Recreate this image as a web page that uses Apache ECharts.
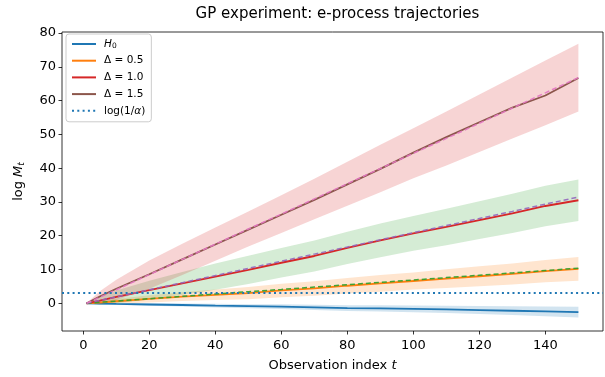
<!DOCTYPE html>
<html>
<head>
<meta charset="utf-8">
<script src="https://cdn.jsdelivr.net/npm/echarts@6/dist/echarts.min.js"></script>
<style>
  html, body { margin: 0; padding: 0; background: #fff; }
  #chart { width: 605px; height: 377px; }
</style>
</head>
<body>
<div id="chart"></div>
<script>
const T = [1, 5, 10, 20, 30, 40, 50, 60, 70, 80, 90, 100, 110, 120, 130, 140, 150];

// H0
const h0Line = [0, -0.1, -0.2, -0.35, -0.5, -0.7, -0.85, -1.0, -1.2, -1.4, -1.5, -1.65, -1.8, -2.0, -2.2, -2.4, -2.6];
const h0Lo = [0, -0.25, -0.45, -0.7, -0.95, -1.25, -1.45, -1.7, -1.95, -2.25, -2.4, -2.65, -2.9, -3.2, -3.5, -3.85, -4.2];
const h0Hi = [0, 0.05, 0.05, 0, -0.05, -0.15, -0.25, -0.3, -0.45, -0.55, -0.6, -0.65, -0.7, -0.8, -0.9, -0.95, -1.0];

// Delta = 0.5
const d05Line = [0, 0.2, 0.6, 1.3, 2.0, 2.5, 3.0, 3.8, 4.4, 5.2, 5.9, 6.6, 7.3, 8.0, 8.7, 9.5, 10.2];
const d05Ref = [0, 0.3, 0.65, 1.35, 2.05, 2.75, 3.45, 4.1, 4.8, 5.5, 6.2, 6.9, 7.6, 8.3, 9.0, 9.7, 10.4];
const d05Lo = [0, -0.3, -0.1, 0.25, 0.7, 0.95, 1.2, 1.8, 2.25, 2.9, 3.45, 4.05, 4.55, 5.05, 5.6, 6.2, 6.7];
const d05Hi = [0, 0.7, 1.3, 2.35, 3.3, 4.05, 4.8, 5.8, 6.55, 7.5, 8.35, 9.15, 10.05, 10.95, 11.8, 12.8, 13.7];

// Delta = 1.0
const d10Line = [0, 0.8, 1.9, 3.9, 5.9, 7.9, 9.9, 12.0, 14.0, 16.4, 18.6, 20.7, 22.6, 24.6, 26.6, 28.8, 30.5];
const d10Ref = [0, 0.85, 1.9, 4.0, 6.1, 8.2, 10.35, 12.45, 14.55, 16.65, 18.8, 20.9, 23.0, 25.1, 27.2, 29.35, 31.45];
const d10Lo = [0, -0.4, 0, 1.1, 2.5, 4.0, 5.7, 7.6, 9.4, 11.6, 13.6, 15.55, 17.2, 19.0, 20.8, 22.8, 24.35];
const d10Hi = [0, 2.0, 3.8, 6.7, 9.3, 11.8, 14.1, 16.4, 18.6, 21.2, 23.6, 25.85, 28.0, 30.2, 32.4, 34.8, 36.65];

// Delta = 1.5
const d15Line = [0, 2.0, 4.3, 8.6, 13.0, 17.4, 21.8, 26.2, 30.6, 35.2, 39.8, 44.6, 49.2, 53.6, 57.9, 61.5, 66.7];
const d15Ref = [0, 1.8, 4.0, 8.5, 13.0, 17.5, 22.0, 26.4, 30.9, 35.4, 39.9, 44.4, 48.8, 53.3, 57.8, 62.3, 66.8];
const d15Lo = [0, 0, 1.0, 4.3, 8.4, 12.6, 16.8, 20.8, 24.9, 28.9, 32.9, 37.0, 40.8, 44.8, 48.8, 52.7, 56.8];
const d15Hi = [0, 3.6, 7.0, 12.7, 17.6, 22.4, 27.2, 32.0, 36.9, 41.9, 46.9, 51.8, 56.8, 61.8, 66.8, 71.9, 76.8];

const logInvAlpha = 2.996;

const xTicks = [0, 20, 40, 60, 80, 100, 120, 140];
const yTicks = [0, 10, 20, 30, 40, 50, 60, 70, 80];

const C = {
  blue: '#1f77b4', orange: '#ff7f0e', green: '#2ca02c', red: '#d62728',
  purple: '#9467bd', brown: '#8c564b', pink: '#e377c2'
};
const FONT = 'DejaVu Sans';

const pairs = (ys) => T.map((t, i) => [t, ys[i]]);

// shaded band between lo and hi, drawn as one polygon through the axes
function band(id, lo, hi, color) {
  return {
    name: id, type: 'custom', silent: true, z: 1,
    data: [[T[0], lo[0]]],
    renderItem: (params, api) => {
      const pts = [];
      T.forEach((t, i) => pts.push(api.coord([t, hi[i]])));
      for (let i = T.length - 1; i >= 0; i--) pts.push(api.coord([T[i], lo[i]]));
      return { type: 'polygon', shape: { points: pts }, style: { fill: color } };
    }
  };
}

function solid(name, ys, color) {
  return {
    name: name, type: 'line', data: pairs(ys), symbol: 'none', silent: true,
    lineStyle: { color: color, width: 1.8 }, itemStyle: { color: color }, z: 3
  };
}

function dashed(name, ys, color) {
  return {
    name: name, type: 'line', data: pairs(ys), symbol: 'none', silent: true,
    lineStyle: { color: color, width: 1.5, type: [5, 3], opacity: 0.9 }, z: 4
  };
}

const chart = echarts.init(document.getElementById('chart'), null, { renderer: 'canvas' });

const legendRich = {
  it: { fontStyle: 'italic', fontFamily: FONT, fontSize: 10.5 },
  sub: { fontFamily: FONT, fontSize: 7.5, padding: [5, 0, 0, 0] },
  n: { fontFamily: FONT, fontSize: 10.5 }
};

const h0Series = solid('H0', h0Line, C.blue);
h0Series.markLine = {
  silent: true, symbol: 'none', label: { show: false },
  lineStyle: { color: C.blue, width: 2, type: [2, 3.3] },
  data: [{ yAxis: logInvAlpha }]
};

const option = {
  backgroundColor: '#fff',
  animation: false,
  title: {
    text: 'GP experiment: e-process trajectories',
    left: 332.5,
    textAlign: 'center',
    top: 2,
    textStyle: { fontFamily: FONT, fontSize: 15, fontWeight: 'normal', color: '#000' }
  },
  grid: {
    left: 62, right: 2, top: 32, bottom: 44,
    show: true, borderColor: '#000', borderWidth: 0.8, containLabel: false
  },
  legend: {
    orient: 'vertical',
    left: 66, top: 34,
    data: ['H0', 'Δ = 0.5', 'Δ = 1.0', 'Δ = 1.5', 'log(1/α)'],
    itemWidth: 24, itemHeight: 12, itemGap: 2.7,
    padding: [3, 6, 4, 5],
    itemStyle: { opacity: 0 },
    backgroundColor: 'rgba(255,255,255,0.8)',
    borderColor: '#cccccc', borderWidth: 1, borderRadius: 3,
    textStyle: { fontFamily: FONT, fontSize: 10.5, color: '#000', lineHeight: 14, padding: [0, 0, 0, 3], rich: legendRich },
    formatter: (name) => {
      if (name === 'H0') return '{it|H}{sub|0}';
      if (name === 'log(1/α)') return '{n|log(1/}{it|α}{n|)}';
      return name;
    }
  },
  xAxis: {
    type: 'value', min: -6.45, max: 157.45,
    name: 'Observation index {it|t}',
    nameLocation: 'middle', nameGap: 28,
    nameTextStyle: { fontFamily: FONT, fontSize: 13, color: '#000',
      rich: { it: { fontFamily: FONT, fontSize: 13, fontStyle: 'italic' } } },
    splitLine: { show: false },
    axisLine: { show: false, onZero: false },
    axisTick: { show: true, customValues: xTicks, length: 3.5, lineStyle: { color: '#000', width: 0.8 } },
    axisLabel: { customValues: xTicks, fontFamily: FONT, fontSize: 13, color: '#000', margin: 8 }
  },
  yAxis: {
    type: 'value', min: -8.2, max: 80.3,
    name: '{n|log }{it|M}{sub|t}',
    nameLocation: 'middle', nameGap: 36, nameRotate: 90,
    nameTextStyle: { fontFamily: FONT, fontSize: 13, color: '#000',
      rich: {
        n: { fontFamily: FONT, fontSize: 13 },
        it: { fontFamily: FONT, fontSize: 13, fontStyle: 'italic' },
        sub: { fontFamily: FONT, fontSize: 9, fontStyle: 'italic', padding: [6, 0, 0, 0] }
      } },
    splitLine: { show: false },
    axisLine: { show: false, onZero: false },
    axisTick: { show: true, customValues: yTicks, length: 3.5, lineStyle: { color: '#000', width: 0.8 } },
    axisLabel: { customValues: yTicks, fontFamily: FONT, fontSize: 13, color: '#000', margin: 6 }
  },
  series: [
    band('b0', h0Lo, h0Hi, 'rgba(31,119,180,0.2)'),
    band('b05', d05Lo, d05Hi, 'rgba(255,127,14,0.2)'),
    band('b10', d10Lo, d10Hi, 'rgba(44,160,44,0.2)'),
    band('b15', d15Lo, d15Hi, 'rgba(214,39,40,0.2)'),
    h0Series,
    solid('Δ = 0.5', d05Line, C.orange),
    solid('Δ = 1.0', d10Line, C.red),
    solid('Δ = 1.5', d15Line, C.brown),
    dashed('ref05', d05Ref, C.green),
    dashed('ref10', d10Ref, C.purple),
    dashed('ref15', d15Ref, C.pink),
    {
      // legend entry for the threshold line
      name: 'log(1/α)', type: 'line', data: [], symbol: 'none', silent: true,
      lineStyle: { color: C.blue, width: 2, type: [2, 3.3] },
      itemStyle: { color: C.blue }
    }
  ]
};

chart.setOption(option);
</script>
</body>
</html>
